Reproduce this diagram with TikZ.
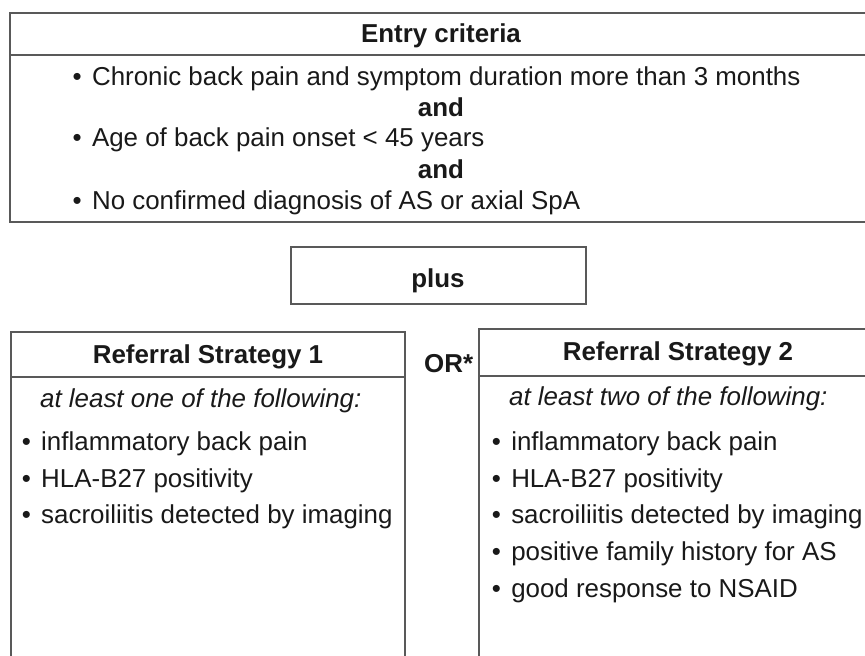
\documentclass[tikz,border=0pt]{standalone}
\usepackage{fontspec}
\setmainfont{Liberation Sans}
\newcommand{\bul}{•\hspace{0.12em} }
\begin{document}
\begin{tikzpicture}[x=1bp, y=-1bp,
    frame/.style={draw=black!65, line width=1.3bp},
    head/.style={anchor=base, inner sep=0pt, text=black!90, font=\fontsize{26}{30}\selectfont\bfseries},
    item/.style={anchor=base west, inner sep=0pt, text=black!90, font=\fontsize{26}{30}\selectfont}]
    \useasboundingbox (0,0) rectangle (865,656);
    \clip (0,0) rectangle (865,656);

    % Entry criteria box
    \draw[frame] (10,13) rectangle (872,222);
    \draw[frame] (10,55) -- (872,55);
    \node[head] (entry) at (441,43) {Entry criteria};
    \node[item] (chronic) at (72.5,86) {\bul Chronic back pain and symptom duration more than 3 months};
    \node[head] (andA) at (441,117) {and};
    \node[item] (onset) at (72.5,147) {\bul Age of back pain onset < 45 years};
    \node[head] (andB) at (441,178) {and};
    \node[item] (nodiag) at (72.5,209) {\bul No confirmed diagnosis of AS or axial SpA};

    % plus box
    \draw[frame] (291,247) rectangle (586,304);
    \node[head] (plus) at (438,287) {plus};

    % OR between strategies
    \node[item, font=\fontsize{26}{30}\selectfont\bfseries] (or) at (424,372) {OR*};

    % Referral strategy 1
    \draw[frame] (11,332) rectangle (405,680);
    \draw[frame] (11,377) -- (405,377);
    \node[head] (stratA) at (208,363) {Referral Strategy 1};
    \node[item, font=\fontsize{26}{30}\selectfont\itshape] (oneof) at (40,407) {at least one of the following:};
    \node[item] (ibpA) at (21.7,450) {\bul inflammatory back pain};
    \node[item] (hlaA) at (21.7,487) {\bul HLA-B27 positivity};
    \node[item] (sacA) at (21.7,523) {\bul sacroiliitis detected by imaging};

    % Referral strategy 2
    \draw[frame] (479,329) rectangle (877,680);
    \draw[frame] (479,376) -- (877,376);
    \node[head] (stratB) at (678,360) {Referral Strategy 2};
    \node[item, font=\fontsize{26}{30}\selectfont\itshape] (twoof) at (509,405) {at least two of the following:};
    \node[item] (ibpB) at (491.7,450) {\bul inflammatory back pain};
    \node[item] (hlaB) at (491.7,487) {\bul HLA-B27 positivity};
    \node[item] (sacB) at (491.7,523) {\bul sacroiliitis detected by imaging};
    \node[item] (famB) at (491.7,560) {\bul positive family history for AS};
    \node[item] (nsaidB) at (491.7,597) {\bul good response to NSAID};
\end{tikzpicture}
\end{document}
